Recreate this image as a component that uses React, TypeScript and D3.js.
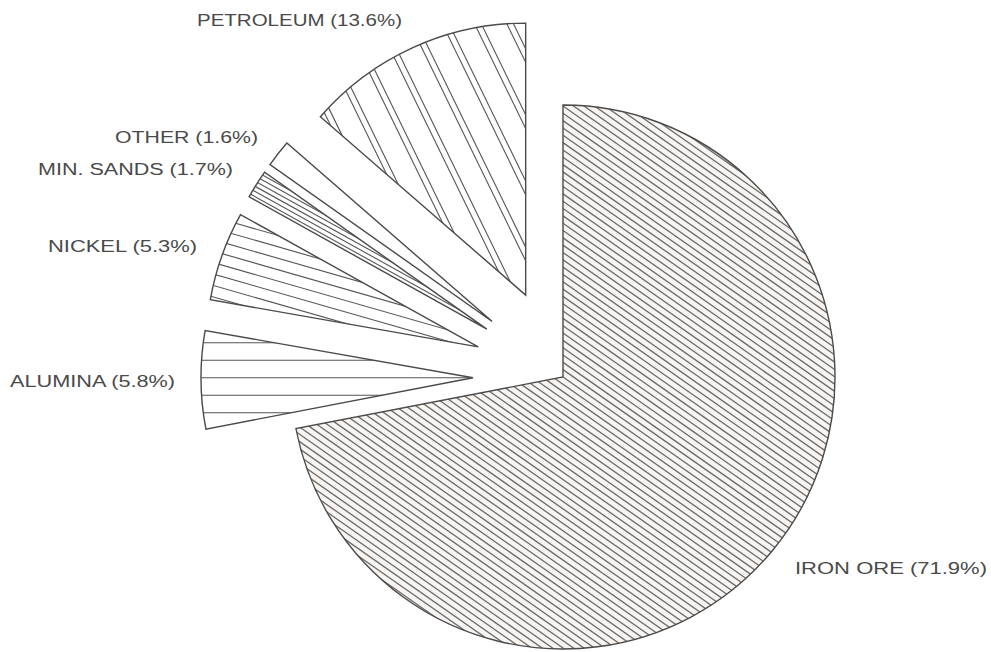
import { useMemo } from "react";
import * as d3 from "d3";

// shares of export value, clockwise from 12 o'clock
const categories = ["IRON ORE", "ALUMINA", "NICKEL", "MIN. SANDS", "OTHER", "PETROLEUM"];
const shares = [71.9, 5.8, 5.3, 1.7, 1.6, 13.6];

const W = 991;
const H = 652;
const cx = 563;
const cy = 377;
const R = 272;
const EXPLODE = 90;

// label layout: x start, baseline, text width
const labelPos: [number, number, number][] = [
  [795, 574, 192],
  [10, 387, 165],
  [48, 252, 149],
  [38, 175, 195],
  [115, 143, 143],
  [197, 26, 205],
];

// hatch style per slice: angle (deg, "\" positive), spacing, pair gap (0 = single)
type Hatch = { angle: number; step: number; gap: number; offset: number } | null;
const hatches: Hatch[] = [
  { angle: 35, step: 6.0, gap: 0, offset: 0 },
  { angle: 0, step: 17.5, gap: 0, offset: 0 },
  { angle: 16, step: 11, gap: 0, offset: 3 },
  { angle: 29, step: 4.5, gap: 0, offset: 1 },
  null,
  { angle: 64, step: 29, gap: 6, offset: 8 },
];

export default function App() {
  const slices = useMemo(() => {
    const pie = d3
      .pie<number>()
      .sort(null)
      .value((d) => d)
      .startAngle(0)
      .endAngle(Math.PI * 2);
    return pie(shares);
  }, []);

  const arc = d3.arc<d3.PieArcDatum<number>>().innerRadius(0).outerRadius(R);

  return (
    <div style={{ position: "fixed", left: 0, top: 0, background: "#fff" }}>
      <svg width={W} height={H} viewBox={`0 0 ${W} ${H}`}>
        <rect width={W} height={H} fill="#fff" />
        {slices.map((s, i) => {
          const mid = (s.startAngle + s.endAngle) / 2;
          const off = i === 0 ? 0 : EXPLODE;
          const dx = Math.sin(mid) * off;
          const dy = -Math.cos(mid) * off;
          const d = arc(s) || "";
          const h = hatches[i];
          const lines: number[] = [];
          if (h) {
            for (let k = -Math.ceil(R / h.step) - 1; k <= Math.ceil(R / h.step) + 1; k++) {
              lines.push(h.offset + k * h.step);
              if (h.gap) lines.push(h.offset + k * h.step + h.gap);
            }
          }
          return (
            <g key={categories[i]} transform={`translate(${cx + dx},${cy + dy})`}>
              <clipPath id={`clip-${i}`}>
                <path d={d} />
              </clipPath>
              <path d={d} fill={i === 0 ? "#f8f4f1" : "#fff"} />
              {h && (
                <g clipPath={`url(#clip-${i})`}>
                  <g transform={`rotate(${h.angle})`}>
                    {lines.map((y, j) => (
                      <line
                        key={j}
                        x1={-R * 1.5}
                        x2={R * 1.5}
                        y1={y}
                        y2={y}
                        stroke={i === 0 ? "#6a6a6a" : "#555"}
                        strokeWidth={i === 0 ? 1.3 : 1.1}
                      />
                    ))}
                  </g>
                </g>
              )}
              <path d={d} fill="none" stroke="#4a4a4a" strokeWidth={1.4} strokeLinejoin="miter" />
            </g>
          );
        })}
        {categories.map((c, i) => {
          const [x, y, w] = labelPos[i];
          return (
            <text
              key={c}
              x={x}
              y={y}
              textLength={w}
              lengthAdjust="spacingAndGlyphs"
              fontFamily="'Liberation Sans', Arial, sans-serif"
              fontSize={16}
              fill="#4a4a4a"
            >
              {`${c} (${shares[i]}%)`}
            </text>
          );
        })}
      </svg>
    </div>
  );
}
